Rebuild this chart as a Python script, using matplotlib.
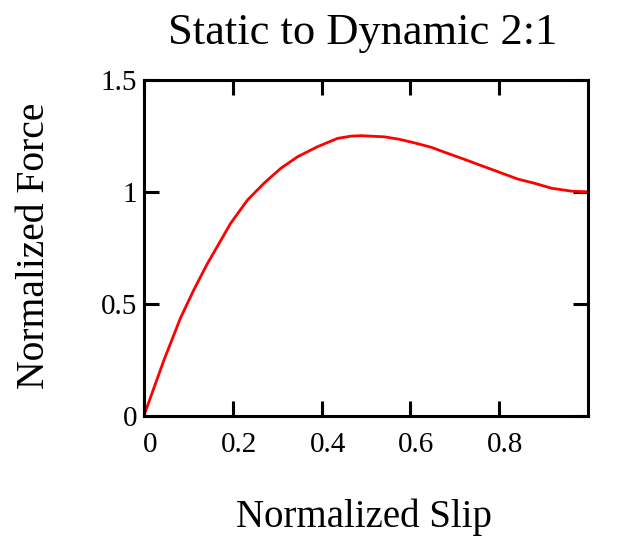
import matplotlib
matplotlib.use("Agg")
import matplotlib.pyplot as plt
from matplotlib.transforms import ScaledTranslation

plt.rcParams['font.family'] = ['Liberation Serif', 'DejaVu Serif']

# Data
slip = [0.0, 0.045, 0.082, 0.112, 0.143, 0.165, 0.195, 0.233, 0.270, 0.308,
        0.346, 0.391, 0.436, 0.466, 0.489, 0.541, 0.575, 0.613, 0.647, 0.684,
        0.722, 0.760, 0.797, 0.842, 0.880, 0.918, 0.963, 1.0]
force = [0.0, 0.248, 0.435, 0.561, 0.680, 0.755, 0.859, 0.963, 1.038, 1.105,
         1.157, 1.202, 1.239, 1.249, 1.251, 1.246, 1.235, 1.217, 1.199, 1.172,
         1.145, 1.117, 1.090, 1.057, 1.038, 1.016, 1.003, 1.0]

x_ticks = [0, 0.2, 0.4, 0.6, 0.8]
x_tick_labels = ['0', '0.2', '0.4', '0.6', '0.8']
y_ticks = [0, 0.5, 1, 1.5]
y_tick_labels = ['0', '0.5', '1', '1.5']

W, H = 644, 554
fig = plt.figure(figsize=(W / 100, H / 100), dpi=100)
ax = fig.add_axes([144 / W, (H - 415.5) / H, (588 - 144) / W, (415.5 - 80) / H])

ax.plot(slip, force, color='#ff0000', linewidth=2.0)
ax.set_xlim(0, 1.0)
ax.set_ylim(0, 1.5)

ax.set_xticks(x_ticks)
ax.set_xticklabels(x_tick_labels)
ax.set_yticks(y_ticks)
ax.set_yticklabels(y_tick_labels)

ax.tick_params(direction='in', length=11, width=2.2, top=True, right=True,
               labelsize=21, colors='black')
ax.tick_params(axis='y', pad=5)
ax.tick_params(axis='x', pad=12)
for lbl in ax.get_xticklabels():
    lbl.set_transform(lbl.get_transform() + ScaledTranslation(6 / 100, 0, fig.dpi_scale_trans))

for s in ax.spines.values():
    s.set_linewidth(2.2)
    s.set_color('black')

fig.text(363 / W, 1 - 33 / H, 'Static to Dynamic 2:1', ha='center', va='center', fontsize=32)
fig.text(364 / W, 1 - 517 / H, 'Normalized Slip', ha='center', va='center', fontsize=28)
fig.text(35 / W, 1 - 246 / H, 'Normalized Force', ha='center', va='center', fontsize=28.5, rotation=90)

fig.savefig('out.png', dpi=100)
